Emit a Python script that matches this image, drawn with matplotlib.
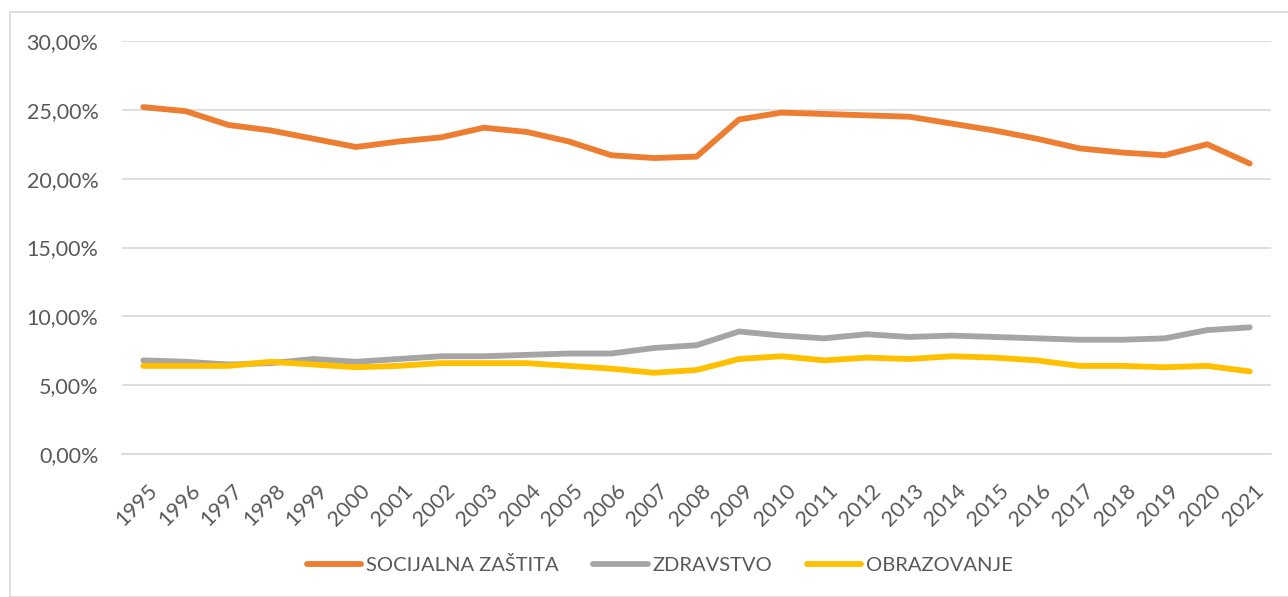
import matplotlib
matplotlib.use("Agg")
import matplotlib.pyplot as plt
import matplotlib.transforms as mtransforms
from matplotlib.ticker import FuncFormatter
from matplotlib.patches import Rectangle

years = [str(y) for y in range(1995, 2022)]
socijalna = [25.2, 24.9, 23.9, 23.5, 22.9, 22.3, 22.7, 23.0, 23.7, 23.4, 22.7, 21.7, 21.5, 21.6,
             24.3, 24.8, 24.7, 24.6, 24.5, 24.0, 23.5, 22.9, 22.2, 21.9, 21.7, 22.5, 21.1]
zdravstvo = [6.8, 6.7, 6.5, 6.6, 6.9, 6.7, 6.9, 7.1, 7.1, 7.2, 7.3, 7.3, 7.7, 7.9,
             8.9, 8.6, 8.4, 8.7, 8.5, 8.6, 8.5, 8.4, 8.3, 8.3, 8.4, 9.0, 9.2]
obrazovanje = [6.4, 6.4, 6.4, 6.7, 6.5, 6.3, 6.4, 6.6, 6.6, 6.6, 6.4, 6.2, 5.9, 6.1,
               6.9, 7.1, 6.8, 7.0, 6.9, 7.1, 7.0, 6.8, 6.4, 6.4, 6.3, 6.4, 6.0]
series_names = ["SOCIJALNA ZAŠTITA", "ZDRAVSTVO", "OBRAZOVANJE"]
colors = ["#ED7D31", "#A5A5A5", "#FFC000"]
yticks = [0, 5, 10, 15, 20, 25, 30]

plt.rcParams['font.family'] = ['Lato', 'DejaVu Sans']
W, H = 1288, 597
fig = plt.figure(figsize=(W / 100, H / 100), dpi=100)
ax = fig.add_axes([122 / W, 1 - 454 / H, (1271 - 122) / W, (454 - 41) / H])

fig.patches.append(Rectangle((10 / W, 0), 1, 1 - 12 / H, transform=fig.transFigure,
                             fill=False, edgecolor="#D9D9D9", linewidth=1.2))

x = list(range(len(years)))
for vals, name, c in zip([socijalna, zdravstvo, obrazovanje], series_names, colors):
    ax.plot(x, vals, color=c, linewidth=4.2, label=name, solid_capstyle='round', solid_joinstyle='round')

ax.set_xlim(-0.5, len(years) - 0.5)
ax.set_ylim(0, 30)
ax.set_yticks(yticks)
ax.yaxis.set_major_formatter(FuncFormatter(lambda v, p: f"{v:.2f}".replace(".", ",") + "%"))
ax.grid(axis='y', color="#D9D9D9", linewidth=1.2)
ax.set_axisbelow(True)
for s in ["top", "right", "left"]:
    ax.spines[s].set_visible(False)
ax.spines["bottom"].set_color("#D9D9D9")
ax.spines["bottom"].set_linewidth(1.2)
ax.set_xticks(x)
ax.set_xticklabels(years, rotation=45, ha='right', rotation_mode='anchor')
ax.tick_params(axis='x', length=0, pad=19, labelsize=15.5, labelcolor="#595959")
ax.tick_params(axis='y', length=0, pad=17, labelsize=15.5, labelcolor="#595959")
offset = mtransforms.ScaledTranslation(4 / 100, 0, fig.dpi_scale_trans)
for lbl in ax.get_xticklabels():
    lbl.set_transform(lbl.get_transform() + offset)

leg = fig.legend(loc='center', bbox_to_anchor=(660 / W, 1 - 565 / H), ncol=3, frameon=False,
                 fontsize=14.5, handlelength=2.7, columnspacing=1.7, handletextpad=0.25)
for t in leg.get_texts():
    t.set_color("#595959")

fig.savefig("out.png", dpi=100)
